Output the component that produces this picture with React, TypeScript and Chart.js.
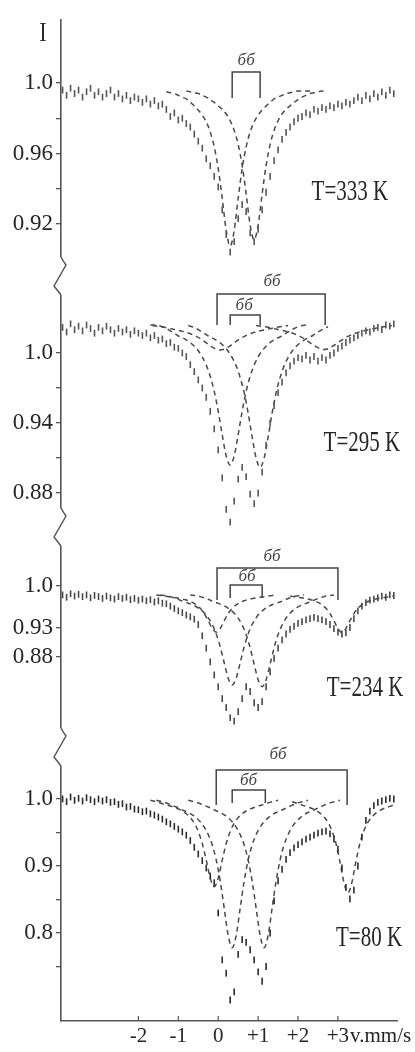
import React, { useEffect, useRef } from 'react';
import { Chart, registerables } from 'chart.js';
Chart.register(...registerables);

// velocity grid of the measured spectra (mm/s)
const V = [
  -3.9, -3.8, -3.7, -3.6, -3.5, -3.4, -3.3, -3.2, -3.1, -3.0,
  -2.9, -2.8, -2.7, -2.6, -2.5, -2.4, -2.3, -2.2, -2.1, -2.0,
  -1.9, -1.8, -1.7, -1.6, -1.5, -1.4, -1.3, -1.2, -1.1, -1.0,
  -0.9, -0.8, -0.7, -0.6, -0.5, -0.4, -0.3, -0.2, -0.1, 0.0,
  0.1, 0.2, 0.3, 0.4, 0.5, 0.6, 0.7, 0.8, 0.9, 1.0,
  1.1, 1.2, 1.3, 1.4, 1.5, 1.6, 1.7, 1.8, 1.9, 2.0,
  2.1, 2.2, 2.3, 2.4, 2.5, 2.6, 2.7, 2.8, 2.9, 3.0,
  3.1, 3.2, 3.3, 3.4, 3.5, 3.6, 3.7, 3.8, 3.9, 4.0,
  4.1, 4.2, 4.3, 4.4,
];

// T = 333 K
const P1_DATA = [
  0.996, 0.993, 0.997, 0.994, 0.996, 0.992, 0.995, 0.997, 0.993, 0.995,
  0.992, 0.994, 0.996, 0.992, 0.994, 0.991, 0.993, 0.990, 0.992, 0.991,
  0.989, 0.991, 0.988, 0.990, 0.987, 0.988, 0.985, 0.981, 0.983, 0.979,
  0.980, 0.977, 0.975, 0.971, 0.967, 0.963, 0.957, 0.953, 0.947, 0.941,
  0.928, 0.914, 0.904, 0.910, 0.923, 0.931, 0.927, 0.915, 0.910, 0.917,
  0.928, 0.938, 0.947, 0.956, 0.962, 0.968, 0.972, 0.975, 0.978, 0.980,
  0.981, 0.983, 0.982, 0.985, 0.984, 0.986, 0.985, 0.987, 0.986, 0.988,
  0.987, 0.989, 0.988, 0.990, 0.992, 0.990, 0.993, 0.991, 0.994, 0.992,
  0.995, 0.993, 0.996, 0.994,
];
const P1_FIT_A = [
  0.995, 0.9945, 0.994, 0.993, 0.992, 0.991, 0.989, 0.987, 0.9846, 0.9818,
  0.9779, 0.9722, 0.9638, 0.9515, 0.9346, 0.9163, 0.9075, 0.9163, 0.9346, 0.9515,
  0.9638, 0.9722, 0.9779, 0.9818, 0.9846, 0.987, 0.989, 0.991, 0.992, 0.993,
  0.994, 0.9945, 0.995, 0.9955, 0.9955, 0.9955, 0.9955,
];
const P1_FIT_B = [
  0.9955, 0.995, 0.9945, 0.994, 0.993, 0.992, 0.9905, 0.989, 0.987, 0.9851,
  0.9824, 0.9786, 0.9731, 0.9651, 0.9533, 0.937, 0.9194, 0.911, 0.9194, 0.937,
  0.9533, 0.9651, 0.9731, 0.9786, 0.9824, 0.9851, 0.987, 0.989, 0.9905, 0.992,
  0.993, 0.994, 0.9945, 0.995, 0.9955, 0.9955,
];

// T = 295 K
const P2_DATA = [
  1.022, 1.018, 1.025, 1.020, 1.023, 1.019, 1.024, 1.021, 1.017, 1.022,
  1.019, 1.023, 1.020, 1.017, 1.021, 1.018, 1.020, 1.016, 1.019, 1.017,
  1.015, 1.017, 1.013, 1.015, 1.011, 1.012, 1.008, 1.009, 1.005, 1.004,
  1.000, 0.997, 0.990, 0.984, 0.977, 0.970, 0.962, 0.950, 0.935, 0.917,
  0.893, 0.866, 0.855, 0.873, 0.892, 0.902, 0.894, 0.879, 0.871, 0.880,
  0.898, 0.921, 0.940, 0.955, 0.966, 0.975, 0.983, 0.989, 0.993, 0.996,
  0.995, 0.998, 0.994, 0.997, 0.993, 0.996, 0.994, 0.998, 1.000, 1.004,
  1.006, 1.009, 1.011, 1.013, 1.015, 1.017, 1.019, 1.018, 1.021, 1.022,
  1.020, 1.024, 1.023, 1.025,
];
const P2_FIT_A = [
  1.024, 1.024, 1.0235, 1.0225, 1.021, 1.019, 1.017, 1.0146, 1.0131, 1.0112,
  1.0089, 1.0058, 1.0019, 0.9967, 0.9896, 0.9801, 0.9671, 0.9501, 0.930, 0.9118,
  0.904, 0.9118, 0.930, 0.9501, 0.9671, 0.9801, 0.9896, 0.9967, 1.0019, 1.0058,
  1.0089, 1.0112, 1.0131, 1.0146, 1.017, 1.019, 1.021, 1.0225, 1.0235, 1.024,
];
const P2_FIT_B = [
  1.0235, 1.0225, 1.021, 1.019, 1.017, 1.0146, 1.013, 1.011, 1.0087, 1.0055,
  1.0015, 0.996, 0.989, 0.979, 0.966, 0.9485, 0.928, 0.910, 0.902, 0.910,
  0.928, 0.9485, 0.966, 0.979, 0.989, 0.996, 1.0015, 1.0055, 1.0087, 1.011,
  1.013, 1.0146, 1.017, 1.019, 1.021, 1.0225,
];
const P2_FIT_C = [
  1.0235, 1.0231, 1.0226, 1.022, 1.0213, 1.0205, 1.0198, 1.019, 1.0182, 1.0171,
  1.0158, 1.0142, 1.0123, 1.010, 1.0075, 1.0051, 1.0033, 1.0026, 1.0033, 1.0051,
  1.0075, 1.010, 1.0123, 1.0142, 1.0158, 1.0171, 1.0182, 1.019, 1.0198, 1.0205,
  1.0213, 1.022, 1.0226, 1.0231, 1.0235,
];
const P2_FIT_D = [
  1.0235, 1.0231, 1.0226, 1.022, 1.0213, 1.0205, 1.0198, 1.019, 1.0182, 1.0171,
  1.0158, 1.0142, 1.0123, 1.010, 1.0076, 1.0054, 1.0037, 1.003, 1.0037, 1.0054,
  1.0076, 1.010, 1.0123, 1.0142, 1.0158, 1.0171, 1.0182, 1.019, 1.0198, 1.0205,
  1.0213, 1.022, 1.0226, 1.0231, 1.0235,
];

// T = 234 K
const P3_DATA = [
  0.985, 0.981, 0.987, 0.983, 0.986, 0.982, 0.985, 0.980, 0.984, 0.982,
  0.979, 0.983, 0.980, 0.978, 0.982, 0.979, 0.981, 0.977, 0.979, 0.976,
  0.978, 0.975, 0.977, 0.973, 0.975, 0.971, 0.970, 0.966, 0.962, 0.958,
  0.955, 0.951, 0.948, 0.944, 0.935, 0.916, 0.895, 0.872, 0.850, 0.830,
  0.810, 0.795, 0.778, 0.772, 0.788, 0.810, 0.830, 0.822, 0.803, 0.795,
  0.805, 0.830, 0.855, 0.878, 0.895, 0.909, 0.919, 0.927, 0.932, 0.937,
  0.940, 0.943, 0.945, 0.947, 0.945, 0.943, 0.940, 0.935, 0.928, 0.922,
  0.919, 0.921, 0.930, 0.945, 0.958, 0.966, 0.972, 0.976, 0.978, 0.980,
  0.983, 0.981, 0.985, 0.984,
];
const P3_FIT_A = [
  0.985, 0.984, 0.983, 0.981, 0.979, 0.976, 0.9731, 0.971, 0.9684, 0.965,
  0.9606, 0.9546, 0.9464, 0.935, 0.9191, 0.8974, 0.8704, 0.8445, 0.833, 0.8445,
  0.8704, 0.8974, 0.9191, 0.935, 0.9464, 0.9546, 0.9606, 0.965, 0.9684, 0.971,
  0.9731, 0.976, 0.979, 0.981, 0.983, 0.984, 0.985,
];
const P3_FIT_B = [
  0.985, 0.984, 0.983, 0.981, 0.979, 0.976, 0.973, 0.9707, 0.968, 0.9646,
  0.96, 0.954, 0.9457, 0.934, 0.918, 0.8955, 0.868, 0.842, 0.83, 0.842,
  0.868, 0.8955, 0.918, 0.934, 0.9457, 0.954, 0.96, 0.9646, 0.968, 0.9707,
  0.973, 0.976, 0.979, 0.981, 0.983, 0.984, 0.985,
];
const P3_FIT_C = [
  0.985, 0.984, 0.983, 0.982, 0.981, 0.98, 0.9787, 0.9772, 0.9752, 0.9724,
  0.9683, 0.9623, 0.9535, 0.9414, 0.9283, 0.922, 0.9283, 0.9414, 0.9535, 0.9623,
  0.9683, 0.9724, 0.9752, 0.9772, 0.9787, 0.98, 0.981, 0.982, 0.983, 0.984,
  0.985,
];
const P3_FIT_D = [
  0.983, 0.982, 0.981, 0.98, 0.9787, 0.9772, 0.9752, 0.9724, 0.9683, 0.9623,
  0.9535, 0.9414, 0.9283, 0.921, 0.9283, 0.9414, 0.9535, 0.9623, 0.9683, 0.9724,
  0.9752, 0.9772, 0.9787, 0.98, 0.981, 0.982, 0.983,
];

// T = 80 K
const P4_DATA = [
  1.000, 0.996, 1.003, 0.998, 1.001, 0.997, 1.002, 0.999, 0.996, 1.000,
  0.997, 0.999, 0.995, 0.996, 0.992, 0.993, 0.988, 0.989, 0.985, 0.984,
  0.981, 0.982, 0.978, 0.976, 0.973, 0.970, 0.966, 0.963, 0.959, 0.955,
  0.951, 0.946, 0.938, 0.928, 0.918, 0.908, 0.897, 0.885, 0.875, 0.830,
  0.760, 0.740, 0.700, 0.712, 0.768, 0.790, 0.786, 0.775, 0.760, 0.742,
  0.728, 0.750, 0.800, 0.848, 0.878, 0.895, 0.910, 0.920, 0.927, 0.932,
  0.936, 0.940, 0.943, 0.946, 0.949, 0.951, 0.952, 0.948, 0.940, 0.925,
  0.897, 0.868, 0.851, 0.864, 0.900, 0.943, 0.968, 0.982, 0.990, 0.995,
  0.997, 0.999, 1.001, 1.000,
];
const P4_FIT_C = [
  0.998, 0.9965, 0.995, 0.993, 0.991, 0.9895, 0.9874, 0.9851, 0.9821, 0.978,
  0.9722, 0.9639, 0.9516, 0.9335, 0.9087, 0.8819, 0.869, 0.8819, 0.9087, 0.9335,
  0.9516, 0.9639, 0.9722, 0.978, 0.9821, 0.9851, 0.9874, 0.9895, 0.991, 0.993,
  0.995, 0.9965, 0.998,
];
const P4_FIT_A = [
  0.998, 0.9965, 0.995, 0.993, 0.9905, 0.988, 0.985, 0.9825, 0.9798, 0.9764,
  0.9719, 0.966, 0.958, 0.9469, 0.9313, 0.9089, 0.8775, 0.837, 0.7965, 0.778,
  0.7965, 0.837, 0.8775, 0.9089, 0.9313, 0.9469, 0.958, 0.966, 0.9719, 0.9764,
  0.9798, 0.9825, 0.985, 0.988, 0.9905, 0.993, 0.995, 0.9965, 0.998,
];
const P4_FIT_B = [
  0.998, 0.9965, 0.995, 0.993, 0.9905, 0.988, 0.985, 0.9825, 0.9798, 0.9764,
  0.9719, 0.966, 0.958, 0.9469, 0.9313, 0.9089, 0.8775, 0.837, 0.7965, 0.778,
  0.7965, 0.837, 0.8775, 0.9089, 0.9313, 0.9469, 0.958, 0.966, 0.9719, 0.9764,
  0.9798, 0.9825, 0.985, 0.988, 0.9905, 0.993, 0.995, 0.9965, 0.998,
];
const P4_FIT_D = [
  0.996, 0.994, 0.992, 0.990, 0.988, 0.9858, 0.9829, 0.979, 0.9733, 0.9651,
  0.9526, 0.9338, 0.9066, 0.8756, 0.86, 0.8756, 0.9066, 0.9338, 0.9526, 0.9651,
  0.9733, 0.979, 0.9829, 0.9858, 0.988, 0.990, 0.992,
];

// starting velocity of each fitted component
const P1_FIT_STARTS = [-1.3, -0.8];
const P2_FIT_STARTS = [-1.7, -0.75, -1.65, 0.95];
const P3_FIT_STARTS = [-1.45, -0.7, -1.55, 1.8];
const P4_FIT_STARTS = [-1.55, -0.75, -1.7, 1.85];
const FIT_STEP = 0.1;

// doublet line positions (mm/s): [inner], [outer]
const P1_DOUBLETS = [[0.35, 1.05]];
const P2_DOUBLETS = [[0.3, 1.05], [-0.03, 2.68]];
const P3_DOUBLETS = [[0.3, 1.1], [-0.03, 3.0]];
const P4_DOUBLETS = [[0.35, 1.18], [-0.05, 3.23]];
const DOUBLET_LABELS = ['бб', 'бб'];

const TEMPS = ['T=333 K', 'T=295 K', 'T=234 K', 'T=80 K'];

const P1_TICKS = [1.0, 0.98, 0.96, 0.94, 0.92];
const P1_TICK_LABELS = ['1.0', '', '0.96', '', '0.92'];
const P2_TICKS = [1.0, 0.97, 0.94, 0.91, 0.88];
const P2_TICK_LABELS = ['1.0', '', '0.94', '', '0.88'];
const P3_TICKS = [1.0, 0.93, 0.88];
const P3_TICK_LABELS = ['1.0', '0.93', '0.88'];
const P4_TICKS = [1.0, 0.95, 0.9, 0.85, 0.8, 0.75];
const P4_TICK_LABELS = ['1.0', '', '0.9', '', '0.8', ''];

const X_TICKS = [-2, -1, 0, 1, 2, 3];
const X_TICK_LABELS = ['-2', '-1', '0', '+1', '+2', '+3'];
const X_UNIT = 'v.mm/s';
const Y_TITLE = 'I';

// ---- layout / style (not data) ----
const SERIF = '"Liberation Serif", "DejaVu Serif", serif';
const AXIS = '#555555';
const TEXT = '#262626';
const FIT = '#4a4a4a';

const PANELS = [
  {
    id: 'y1', min: 0.89047, max: 1.03575, h: 256, data: P1_DATA, mark: '#555555',
    fits: [P1_FIT_A, P1_FIT_B], starts: P1_FIT_STARTS,
    ticks: P1_TICKS, labels: P1_TICK_LABELS, temp: TEMPS[0], tempAt: [3.3, 0.9381],
    doublets: P1_DOUBLETS,
    br: [{ top: 1.0062, bottom: 0.9915, lv: 0.7, ly: 1.0125 }],
  },
  {
    id: 'y2', min: 0.8509, max: 1.066, h: 251, data: P2_DATA, mark: '#555555',
    fits: [P2_FIT_A, P2_FIT_B, P2_FIT_C, P2_FIT_D], starts: P2_FIT_STARTS,
    ticks: P2_TICKS, labels: P2_TICK_LABELS, temp: TEMPS[1], tempAt: [3.6, 0.9229],
    doublets: P2_DOUBLETS,
    br: [
      { top: 1.0326, bottom: 1.024, lv: 0.65, ly: 1.0405 },
      { top: 1.0506, bottom: 1.024, lv: 1.35, ly: 1.061 },
    ],
  },
  {
    id: 'y3', min: 0.72832, max: 1.09956, h: 220, data: P3_DATA, mark: '#484848',
    fits: [P3_FIT_A, P3_FIT_B, P3_FIT_C, P3_FIT_D], starts: P3_FIT_STARTS,
    ticks: P3_TICKS, labels: P3_TICK_LABELS, temp: TEMPS[2], tempAt: [3.68, 0.8279],
    doublets: P3_DOUBLETS,
    br: [
      { top: 1.0017, bottom: 0.9798, lv: 0.72, ly: 1.0152 },
      { top: 1.0304, bottom: 0.9764, lv: 1.35, ly: 1.0489 },
    ],
  },
  {
    id: 'y4', min: 0.66866, max: 1.07761, h: 274, data: P4_DATA, mark: '#2a2a2a',
    fits: [P4_FIT_A, P4_FIT_B, P4_FIT_C, P4_FIT_D], starts: P4_FIT_STARTS,
    ticks: P4_TICKS, labels: P4_TICK_LABELS, temp: TEMPS[3], tempAt: [3.78, 0.7925],
    doublets: P4_DOUBLETS,
    br: [
      { top: 1.0134, bottom: 0.994, lv: 0.76, ly: 1.0269 },
      { top: 1.0433, bottom: 0.991, lv: 1.5, ly: 1.0657 },
    ],
  },
];

function stretchText(ctx: CanvasRenderingContext2D, text: string, x: number, y: number, font: string, sy: number, align: CanvasTextAlign) {
  ctx.save();
  ctx.translate(x, y);
  ctx.scale(1, sy);
  ctx.font = font;
  ctx.textAlign = align;
  ctx.textBaseline = 'middle';
  ctx.fillText(text, 0, 0);
  ctx.restore();
}

const decorPlugin = {
  id: 'decor',
  afterDraw(chart: any) {
    const ctx: CanvasRenderingContext2D = chart.ctx;
    const xs = chart.scales.x;
    const area = chart.chartArea;
    ctx.save();
    ctx.fillStyle = TEXT;
    ctx.strokeStyle = AXIS;

    // inward ticks on the velocity axis
    ctx.lineWidth = 1.2;
    X_TICKS.forEach((v) => {
      const px = xs.getPixelForValue(v);
      ctx.beginPath();
      ctx.moveTo(px, area.bottom);
      ctx.lineTo(px, area.bottom - 5);
      ctx.stroke();
    });

    // unit after "+3"
    ctx.font = `21px ${SERIF}`;
    const w3 = ctx.measureText(X_TICK_LABELS[X_TICK_LABELS.length - 1]).width;
    const p3 = xs.getPixelForValue(X_TICKS[X_TICKS.length - 1]);
    ctx.textAlign = 'left';
    ctx.textBaseline = 'middle';
    ctx.fillText(X_UNIT, p3 + w3 / 2 + 1, xs.top + 3 + 12.6);

    // axis title
    stretchText(ctx, Y_TITLE, 43, 34, `21px ${SERIF}`, 1.25, 'center');

    PANELS.forEach((p) => {
      const ys = chart.scales[p.id];
      ctx.fillStyle = TEXT;
      stretchText(ctx, p.temp, xs.getPixelForValue(p.tempAt[0]), ys.getPixelForValue(p.tempAt[1]), `21px ${SERIF}`, 1.4, 'center');
      p.doublets.forEach((d, k) => {
        const b = p.br[k];
        const xl = xs.getPixelForValue(d[0]);
        const xr = xs.getPixelForValue(d[1]);
        const yt = ys.getPixelForValue(b.top);
        const yb = ys.getPixelForValue(b.bottom);
        ctx.strokeStyle = '#444444';
        ctx.lineWidth = 1.5;
        ctx.beginPath();
        ctx.moveTo(xl, yb);
        ctx.lineTo(xl, yt);
        ctx.lineTo(xr, yt);
        ctx.lineTo(xr, yb);
        ctx.stroke();
        ctx.fillStyle = '#444444';
        stretchText(ctx, DOUBLET_LABELS[k], xs.getPixelForValue(b.lv), ys.getPixelForValue(b.ly), `italic 17px ${SERIF}`, 1.0, 'center');
      });
    });

    // axis breaks between the stacked panels
    const ax = area.left;
    ctx.strokeStyle = AXIS;
    ctx.lineWidth = 1.5;
    ctx.lineJoin = 'round';
    ['y1', 'y2', 'y3'].forEach((id) => {
      const c = chart.scales[id].bottom;
      ctx.fillStyle = '#ffffff';
      ctx.fillRect(ax - 4, c - 19, 8, 38);
      ctx.beginPath();
      ctx.moveTo(ax, c - 19);
      ctx.quadraticCurveTo(ax + 2, c - 15, ax + 5, c - 11);
      ctx.lineTo(ax - 7, c + 10);
      ctx.quadraticCurveTo(ax - 3, c + 15, ax, c + 19);
      ctx.stroke();
    });
    ctx.restore();
  },
};

export default function App() {
  const ref = useRef<HTMLCanvasElement | null>(null);
  useEffect(() => {
    if (!ref.current) return;
    const datasets: any[] = [];
    PANELS.forEach((p) => {
      datasets.push({
        data: V.map((x, i) => ({ x, y: p.data[i] })),
        yAxisID: p.id,
        showLine: false,
        pointStyle: 'line',
        pointRotation: 90,
        pointRadius: 3.4,
        pointBorderWidth: 1.6,
        pointBorderColor: p.mark,
        pointBackgroundColor: p.mark,
        borderColor: p.mark,
        clip: false,
      });
      p.fits.forEach((vals, k) => {
        datasets.push({
          data: vals.map((y, i) => ({ x: +(p.starts[k] + i * FIT_STEP).toFixed(2), y })),
          yAxisID: p.id,
          borderColor: FIT,
          borderWidth: 1.5,
          borderDash: [5, 4],
          pointRadius: 0,
          fill: false,
          cubicInterpolationMode: 'monotone',
          clip: false,
        });
      });
    });

    const scales: any = {
      x: {
        type: 'linear',
        position: 'bottom',
        min: -3.94,
        max: 4.48,
        afterBuildTicks: (s: any) => { s.ticks = X_TICKS.map((v) => ({ value: v })); },
        afterFit: (s: any) => { s.height = 31; },
        grid: { display: false, drawTicks: false },
        border: { display: true, color: AXIS, width: 1.6 },
        ticks: {
          autoSkip: false,
          maxRotation: 0,
          padding: 3,
          color: TEXT,
          font: { family: SERIF, size: 21 },
          callback: (_v: any, i: number) => X_TICK_LABELS[i],
        },
      },
    };
    PANELS.forEach((p, k) => {
      scales[p.id] = {
        type: 'linear',
        position: 'left',
        stack: 'panels',
        stackWeight: p.h,
        weight: PANELS.length - k,
        min: p.min,
        max: p.max,
        afterBuildTicks: (s: any) => { s.ticks = p.ticks.map((v) => ({ value: v })); },
        afterFit: (s: any) => { s.width = 61; },
        grid: { display: true, drawOnChartArea: false, drawTicks: true, tickLength: 5, color: AXIS, lineWidth: 1.3 },
        border: { display: true, color: AXIS, width: 1.6 },
        ticks: {
          autoSkip: false,
          padding: 3,
          color: TEXT,
          font: { family: SERIF, size: 23 },
          callback: (_v: any, i: number) => p.labels[i],
        },
      };
    });

    const chart = new Chart(ref.current, {
      type: 'line',
      data: { datasets },
      options: {
        responsive: false,
        animation: false,
        devicePixelRatio: 1,
        events: [],
        layout: { padding: { top: 20, left: 0, right: 18, bottom: 0 } },
        plugins: { legend: { display: false }, tooltip: { enabled: false } },
        scales,
      },
      plugins: [decorPlugin],
    } as any);
    return () => chart.destroy();
  }, []);

  return (
    <div style={{ position: 'absolute', left: 0, top: 0, width: 415, height: 1052, background: '#ffffff' }}>
      <canvas ref={ref} width={415} height={1052} style={{ display: 'block' }} />
    </div>
  );
}
